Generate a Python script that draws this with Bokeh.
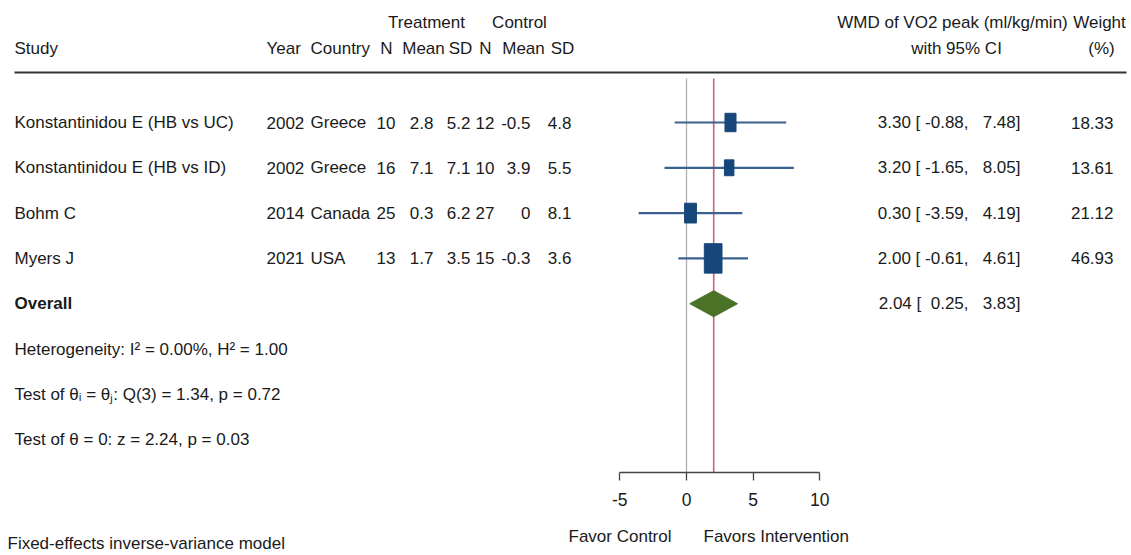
from bokeh.plotting import figure
from bokeh.models import Range1d, LinearAxis, FixedTicker, ColumnDataSource
from bokeh.core.properties import value
from bokeh.embed import file_html
from bokeh.resources import INLINE

# ---------------- data ----------------
studies = ["Konstantinidou E (HB vs UC)", "Konstantinidou E (HB vs ID)", "Bohm C", "Myers J"]
years = ["2002", "2002", "2014", "2021"]
countries = ["Greece", "Greece", "Canada", "USA"]
t_n = ["10", "16", "25", "13"]
t_mean = ["2.8", "7.1", "0.3", "1.7"]
t_sd = ["5.2", "7.1", "6.2", "3.5"]
c_n = ["12", "10", "27", "15"]
c_mean = ["-0.5", "3.9", "0", "-0.3"]
c_sd = ["4.8", "5.5", "8.1", "3.6"]
wmd = [3.30, 3.20, 0.30, 2.00]
lower = [-0.88, -1.65, -3.59, -0.61]
upper = [7.48, 8.05, 4.19, 4.61]
weights = [18.33, 13.61, 21.12, 46.93]
overall = [2.04]
overall_lo = [0.25]
overall_hi = [3.83]
ticks = [-5, 0, 5, 10]
stats_lines = ["Heterogeneity: I\u00b2 = 0.00%, H\u00b2 = 1.00",
               "Test of \u03b8\u1d62 = \u03b8\u2c7c: Q(3) = 1.34, p = 0.72",
               "Test of \u03b8 = 0: z = 2.24, p = 0.03"]

# ---------------- layout constants (page px) ----------------
W, H = 1131, 555
ZERO_PX = 686.0      # page x of value 0
PX_PER = 13.333      # px per unit
FONT = "Liberation Sans"
FS = "17px"
TXT = "#1a1a1a"

def xd(page_x):
    return (page_x - ZERO_PX) / PX_PER

def yd(page_y):
    return page_y

ROW0, ROWH = 122.0, 45.3
def row(k):
    return yd(ROW0 + ROWH * k)

x0 = -ZERO_PX / PX_PER
x1 = (W - ZERO_PX) / PX_PER

p = figure(width=W, height=H, x_range=Range1d(x0, x1), y_range=Range1d(H, 0),
           output_backend="svg", toolbar_location=None, min_border=0,
           x_axis_type=None, y_axis_type=None, outline_line_color=None)
p.background_fill_color = "white"
p.border_fill_color = "white"

def add_text(texts, page_x, ys, align="left", style="normal", size=FS):
    src = ColumnDataSource(dict(x=[xd(page_x)] * len(texts), y=ys, t=texts))
    p.text(x="x", y="y", text="t", source=src, text_font=value(FONT),
           text_font_size=size, text_align=align, text_baseline="middle",
           text_color=TXT, text_font_style=style)

n = len(studies)
ys = [row(k) for k in range(n)]

# headers
add_text(["Treatment"], 426, [yd(22)], "center")
add_text(["Control"], 519, [yd(22)], "center")
add_text(["WMD of VO2 peak (ml/kg/min)"], 952, [yd(22)], "center")
add_text(["Weight"], 1099, [yd(22)], "center")
add_text(["Study"], 14, [yd(48)], "left")
add_text(["Year"], 266, [yd(48)], "left")
add_text(["Country"], 310, [yd(48)], "left")
add_text(["N"], 386, [yd(48)], "center")
add_text(["Mean"], 423, [yd(48)], "center")
add_text(["SD"], 460, [yd(48)], "center")
add_text(["N"], 485, [yd(48)], "center")
add_text(["Mean"], 523, [yd(48)], "center")
add_text(["SD"], 562, [yd(48)], "center")
add_text(["with 95% CI"], 956, [yd(48)], "center")
add_text(["(%)"], 1101, [yd(48)], "center")

# header rule
p.segment(x0=[xd(14)], y0=[yd(72)], x1=[xd(1126)], y1=[yd(72)], line_color="#333333", line_width=2)

# study rows
add_text(studies, 14, ys, "left")
add_text(years, 266, ys, "left")
add_text(countries, 310, ys, "left")
add_text(t_n, 395, ys, "right")
add_text(t_mean, 433, ys, "right")
add_text(t_sd, 470, ys, "right")
add_text(c_n, 494, ys, "right")
add_text(c_mean, 530, ys, "right")
add_text(c_sd, 571, ys, "right")

def fmt_ci(e, lo, hi):
    return "%.2f [%s, %s]" % (e, ("%6.2f" % lo).replace(" ", "\u00a0"), ("%6.2f" % hi).replace(" ", "\u00a0"))

ci_txt = [fmt_ci(e, lo, hi) for e, lo, hi in zip(wmd, lower, upper)]
add_text(ci_txt, 1020, ys, "right")
add_text(["%.2f" % w for w in weights], 1113, ys, "right")

# overall row
yo = row(n)
add_text(["Overall"], 14, [yo], "left", "bold")
add_text([fmt_ci(overall[0], overall_lo[0], overall_hi[0])], 1020, [yo], "right")

# stats
add_text(stats_lines, 14, [row(n + 1 + i) for i in range(len(stats_lines))], "left")
add_text(["Fixed-effects inverse-variance model"], 7, [yd(543)], "left")

# reference lines
axis_y = yd(472)
top_y = yd(78)
p.segment(x0=[0], y0=[top_y], x1=[0], y1=[axis_y], line_color="#b0b0b0", line_width=1.3)
p.segment(x0=overall, y0=[top_y], x1=overall, y1=[axis_y], line_color="#cc6077", line_width=1.6)

# CI lines and squares
p.segment(x0=lower, y0=ys, x1=upper, y1=ys, line_color="#3a6190", line_width=2.2)
hs = [4.3 * (w ** 0.5) for w in weights]
wsz = [0.6 * h for h in hs]
p.rect(x=wmd, y=ys, width=wsz, height=hs, width_units="screen", height_units="screen",
       fill_color="#17477a", line_color="#17477a")

# overall diamond
dh = 13
p.patch(x=[overall_lo[0], overall[0], overall_hi[0], overall[0]],
        y=[yo, yo - dh, yo, yo + dh], fill_color="#4b7328", line_color="#4b7328")

# axis
ax = LinearAxis(ticker=FixedTicker(ticks=ticks), bounds=(ticks[0], ticks[-1]),
                fixed_location=axis_y)
ax.axis_line_color = "#444444"
ax.axis_line_width = 1.3
ax.major_tick_line_color = "#444444"
ax.major_tick_line_width = 1.3
ax.major_tick_out = 8
ax.major_tick_in = 0
ax.minor_tick_out = 0
ax.minor_tick_in = 0
ax.major_label_text_font = FONT
ax.major_label_text_font_size = "17.5px"
ax.major_label_text_color = TXT
ax.major_label_standoff = 12
ax.major_label_overrides = {t: str(t) for t in ticks}
p.add_layout(ax, "below")

add_text(["Favor Control"], 671, [yd(536)], "right")
add_text(["Favors Intervention"], 703, [yd(536)], "left")

open("out.html", "w").write(file_html(p, INLINE))
